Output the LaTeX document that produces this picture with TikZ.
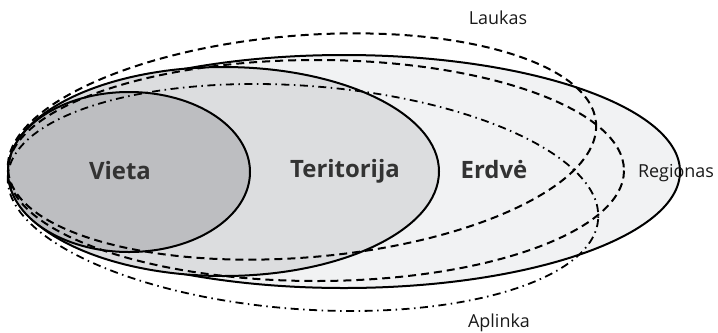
\documentclass[tikz,border=0pt]{standalone}
\usepackage{fontspec}
\setmainfont{Open Sans}
\definecolor{vietagray}{HTML}{BDBEC1}
\definecolor{teritgray}{HTML}{DCDDDF}
\definecolor{regiongray}{HTML}{F1F2F3}
\begin{document}
\begin{tikzpicture}[x = 1bp, y = -1bp,
    zone/.style = {line width=2bp, draw=black},
    dashzone/.style = {line width=2bp, dash pattern=on 8bp off 5bp},
    dotzone/.style = {line width=1.8bp, dash pattern=on 8bp off 4.5bp on 1.5bp off 4.5bp},
    biglabel/.style = {anchor=base, inner sep=0pt, font=\bfseries\fontsize{24}{30}\selectfont, text=black!80},
    smalllabel/.style = {anchor=base, inner sep=0pt, font=\fontsize{18}{22}\selectfont, text=black!90}]
    \useasboundingbox (0,0) rectangle (718,332);
    % filled zones
    \filldraw [zone, fill=regiongray] (344,171.5) ellipse [x radius=336, y radius=116.5];
    \filldraw [zone, fill=teritgray] (223.5,171.5) ellipse [x radius=215.5, y radius=104.5];
    \filldraw [zone, fill=vietagray] (129,172) ellipse [x radius=121, y radius=80];
    % open outlines
    \draw [dashzone] (316,170.5) ellipse [x radius=308, y radius=110.5];
    \draw [dashzone, rotate around={4.6:(302,146.5)}] (302,146.5) ellipse [x radius=295, y radius=111];
    \draw [dotzone, rotate around={-4.2:(303,197.5)}] (303,197.5) ellipse [x radius=296, y radius=111.7];
    % labels
    \node [biglabel] (vieta) at (120,179) {Vieta};
    \node [biglabel] (teritorija) at (345,177) {Teritorija};
    \node [biglabel] (erdve) at (494,178) {Erdvė};
    \node [smalllabel] (laukas) at (498,24) {Laukas};
    \node [smalllabel] (aplinka) at (499,327) {Aplinka};
    \node [smalllabel] (regionas) at (676,177) {Regionas};
\end{tikzpicture}
\end{document}
